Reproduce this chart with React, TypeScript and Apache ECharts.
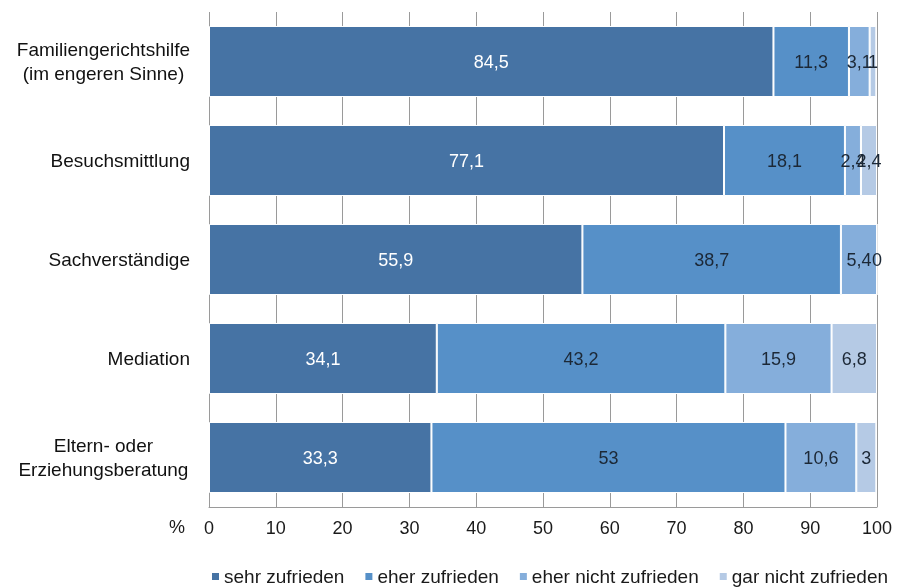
import React, { useEffect, useRef } from "react";
import * as echarts from "echarts";

const categories = [
  "Familiengerichtshilfe\n(im engeren Sinne)",
  "Besuchsmittlung",
  "Sachverständige",
  "Mediation",
  "Eltern- oder\nErziehungsberatung",
];
const seriesNames = ["sehr zufrieden", "eher zufrieden", "eher nicht zufrieden", "gar nicht zufrieden"];
const sehrZufrieden = [84.5, 77.1, 55.9, 34.1, 33.3];
const eherZufrieden = [11.3, 18.1, 38.7, 43.2, 53];
const eherNichtZufrieden = [3.1, 2.4, 5.4, 15.9, 10.6];
const garNichtZufrieden = [1, 2.4, 0, 6.8, 3];
const xTicks = [0, 10, 20, 30, 40, 50, 60, 70, 80, 90, 100];

const colors = ["#4673A4", "#5690C8", "#85AEDB", "#B5CAE5"];
const labelColors = ["#ffffff", "#1c2836", "#1c2836", "#1c2836"];
const FONT = "Liberation Sans, Arial, sans-serif";
const CAT_SIZE = 19;

function measure(text: string, size: number): number {
  const c = document.createElement("canvas").getContext("2d");
  if (!c) return text.length * size * 0.5;
  c.font = `${size}px Liberation Sans, Arial, sans-serif`;
  return c.measureText(text).width;
}

export default function App() {
  const ref = useRef<HTMLDivElement>(null);
  useEffect(() => {
    if (!ref.current) return;
    const chart = echarts.init(ref.current, undefined, { renderer: "svg" });
    const data = [sehrZufrieden, eherZufrieden, eherNichtZufrieden, garNichtZufrieden];
    chart.setOption({
      animation: false,
      textStyle: { fontFamily: FONT },
      grid: { left: 209, right: 20, top: 12, bottom: 81 },
      legend: {
        top: 562,
        left: 205,
        itemWidth: 9,
        itemHeight: 9,
        itemGap: 19,
        icon: "rect",
        textStyle: { fontSize: 19, color: "#1a1a1a", fontFamily: FONT, padding: [0, 0, 0, -1] },
        data: seriesNames,
      },
      xAxis: {
        type: "value",
        min: 0,
        max: 100,
        interval: 10,
        axisLine: { show: true, lineStyle: { color: "#9a9a9a" } },
        axisTick: { show: false },
        splitLine: { show: true, lineStyle: { color: "#9a9a9a" } },
        axisLabel: {
          fontSize: 18,
          color: "#1a1a1a",
          margin: 12,
          formatter: (v: number) => (xTicks.includes(v) ? String(v) : ""),
        },
      },
      yAxis: {
        type: "category",
        inverse: true,
        data: categories,
        axisLine: { show: false },
        axisTick: { show: false },
        axisLabel: {
          fontSize: CAT_SIZE,
          color: "#111",
          margin: 19,
          lineHeight: 24,
          align: "right",
          formatter: (v: string) => {
            const lines = v.split("\n");
            if (lines.length === 1) return v;
            return lines.map((l) => `{c|${l}}`).join("\n");
          },
          rich: {
            c: {
              fontSize: CAT_SIZE,
              lineHeight: 24,
              color: "#111",
              fontFamily: FONT,
              align: "center",
              width: Math.max(measure("Familiengerichtshilfe", CAT_SIZE), measure("Erziehungsberatung", CAT_SIZE)),
            },
          },
        },
      },
      graphic: [
        {
          type: "text",
          left: 169,
          top: 518,
          style: { text: "%", fontSize: 18, fill: "#1a1a1a", fontFamily: FONT },
        },
      ],
      series: data.map((d, i) => ({
        name: seriesNames[i],
        type: "bar",
        stack: "total",
        barWidth: 71,
        data: d,
        itemStyle: { color: colors[i], borderColor: "#ffffff", borderWidth: 1 },
        label: {
          show: true,
          position: "inside",
          fontSize: 18,
          color: labelColors[i],
          fontFamily: FONT,
          formatter: (p: any) => String(p.value).replace(".", ","),
        },
      })),
    });
    return () => chart.dispose();
  }, []);
  return <div ref={ref} style={{ position: "fixed", left: 0, top: 0, width: 897, height: 588 }} />;
}
